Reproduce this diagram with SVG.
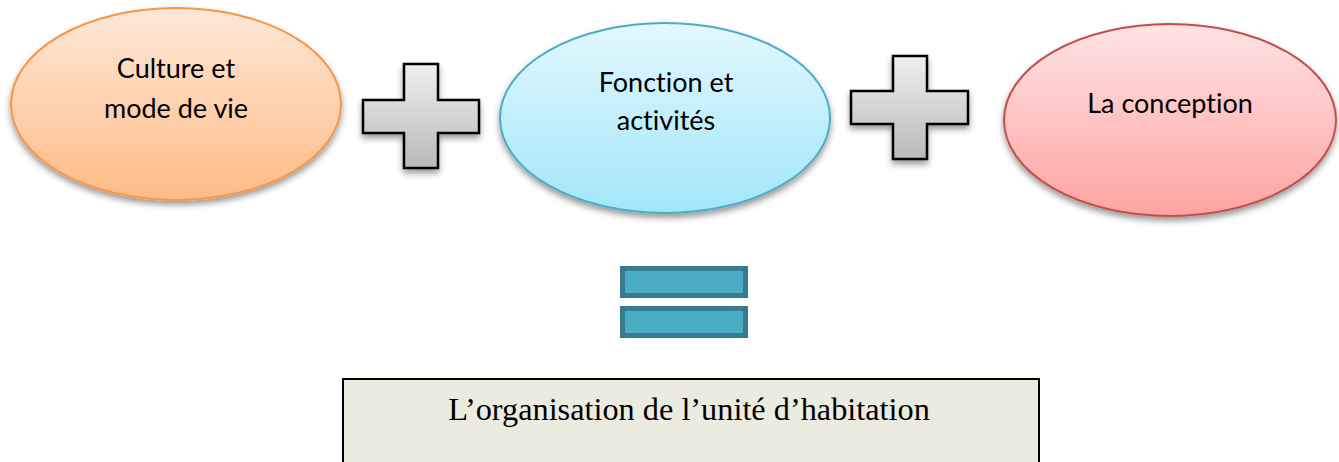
<svg xmlns="http://www.w3.org/2000/svg" width="1339" height="462" viewBox="0 0 1339 462">
<defs>
<linearGradient id="gOrange" x1="0" y1="0" x2="0" y2="1"><stop offset="0" stop-color="#fee8d8"/><stop offset="1" stop-color="#fdbb86"/></linearGradient>
<linearGradient id="gBlue" x1="0" y1="0" x2="0" y2="1"><stop offset="0" stop-color="#e3f8fe"/><stop offset="1" stop-color="#a1e6f9"/></linearGradient>
<linearGradient id="gRed" x1="0" y1="0" x2="0" y2="1"><stop offset="0" stop-color="#fee3e3"/><stop offset="1" stop-color="#fea3a2"/></linearGradient>
<linearGradient id="gGray" x1="0" y1="0" x2="0" y2="1"><stop offset="0" stop-color="#efefef"/><stop offset="1" stop-color="#b9b9b9"/></linearGradient>
<filter id="shadow" x="-20%" y="-20%" width="140%" height="150%"><feDropShadow dx="0" dy="4" stdDeviation="3" flood-color="#000" flood-opacity="0.4"/></filter>
</defs>
<style>
.node text{font-family:Lato,"Open Sans","Noto Sans",sans-serif;font-size:27px;fill:#000;text-anchor:middle;font-variant-ligatures:none}
.plus{fill:url(#gGray);stroke:#000;stroke-width:2.5;filter:url(#shadow)}
.bar{fill:#4bacc6;stroke:#367b8f;stroke-width:5}
</style>
<rect width="1339" height="462" fill="#fff"/>
<g id="culture" class="node">
<ellipse cx="176" cy="104" rx="165" ry="96" fill="url(#gOrange)" stroke="#f79646" stroke-width="2" filter="url(#shadow)"/>
<text x="176" y="78">Culture et</text>
<text x="176" y="118">mode de vie</text>
</g>
<g id="plus1">
<path class="plus" d="M404,64 H438 V100 H479 V133 H438 V168 H404 V133 H363 V100 H404 Z"/>
</g>
<g id="fonction" class="node">
<ellipse cx="665" cy="118" rx="165" ry="95" fill="url(#gBlue)" stroke="#4bacc6" stroke-width="2" filter="url(#shadow)"/>
<text x="666" y="92">Fonction et</text>
<text x="666" y="130">activités</text>
</g>
<g id="plus2">
<path class="plus" d="M893,56 H927 V91 H968 V124 H927 V159 H893 V124 H851 V91 H893 Z"/>
</g>
<g id="conception" class="node">
<ellipse cx="1170" cy="120" rx="166" ry="96" fill="url(#gRed)" stroke="#c0504d" stroke-width="2" filter="url(#shadow)"/>
<text x="1170" y="113">La conception</text>
</g>
<g id="equals">
<rect class="bar" x="622.5" y="268.5" width="123" height="27"/>
<rect class="bar" x="622.5" y="308.5" width="123" height="27"/>
</g>
<g id="resultat">
<rect x="343" y="379" width="696" height="100" fill="#ecebe0" stroke="#000" stroke-width="2"/>
<text x="689" y="420" font-family="'Liberation Serif','Times New Roman',serif" font-size="32.3" text-anchor="middle" fill="#000">L’organisation de l’unité d’habitation</text>
</g>
<g id="connectors"></g>
</svg>
